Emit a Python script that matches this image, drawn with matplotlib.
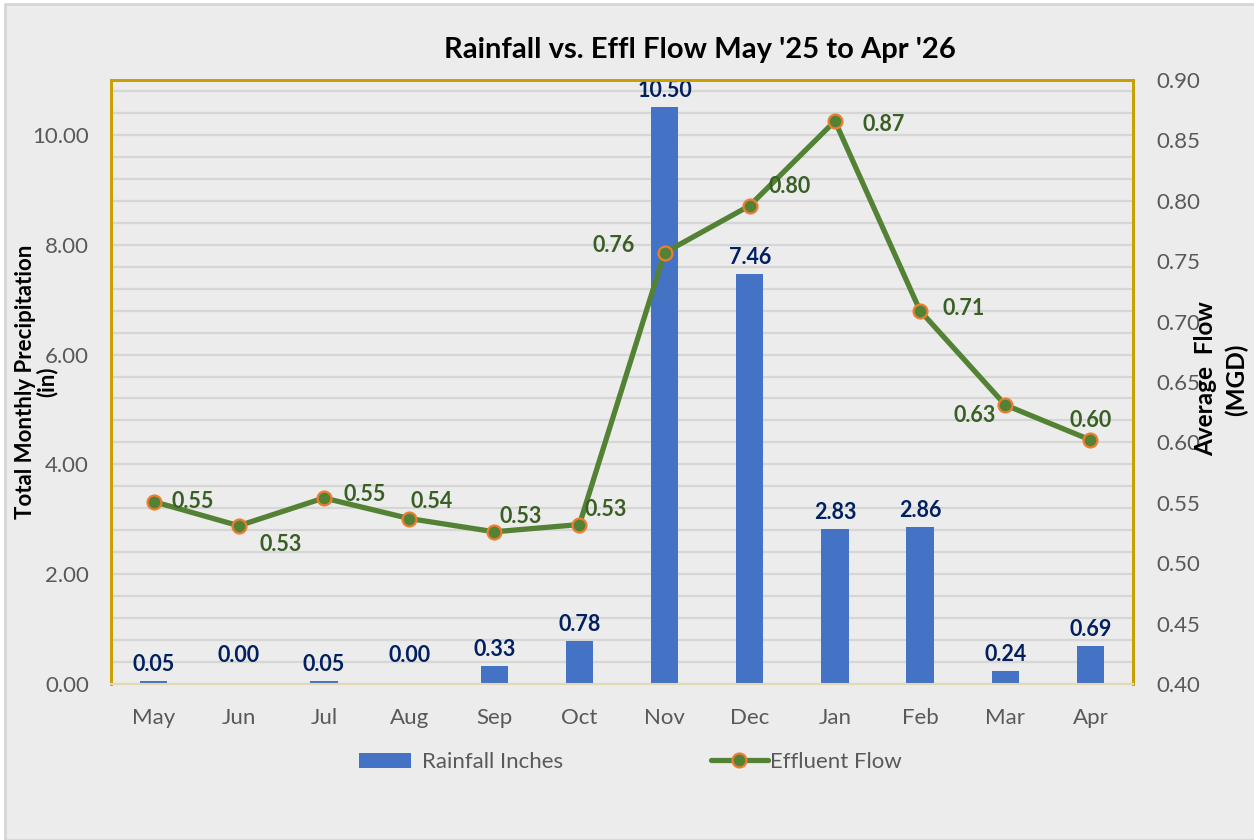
import matplotlib
matplotlib.use("Agg")
import matplotlib.pyplot as plt
from matplotlib.ticker import MultipleLocator, FormatStrFormatter
from matplotlib.patches import Rectangle, Patch
from matplotlib.lines import Line2D

plt.rcParams['font.family'] = ['Lato', 'DejaVu Sans']

months = ['May', 'Jun', 'Jul', 'Aug', 'Sep', 'Oct', 'Nov', 'Dec', 'Jan', 'Feb', 'Mar', 'Apr']
rainfall = [0.05, 0.00, 0.05, 0.00, 0.33, 0.78, 10.50, 7.46, 2.83, 2.86, 0.24, 0.69]
flow = [0.551, 0.531, 0.554, 0.537, 0.526, 0.532, 0.757, 0.796, 0.866, 0.709, 0.631, 0.602]

title = "Rainfall vs. Effl Flow May '25 to Apr '26"
left_label = ["Total Monthly Precipitation", "(in)"]
right_label = ["Average  Flow", "(MGD)"]
bar_name = "Rainfall Inches"
line_name = "Effluent Flow"

# label placement for flow labels (pixel offsets, horizontal alignment)
flow_lbl_layout = [(18, 0, 'left'), (21, -19, 'left'), (20, 3, 'left'), (1, 17, 'left'),
                   (5, 15, 'left'), (5, 15, 'left'), (-30, 7, 'right'), (19, 19, 'left'),
                   (28, -3, 'left'), (22, 2, 'left'), (-9, -11, 'right'), (0, 19, 'center')]

W, H = 1254, 840
BG = '#ECECEC'
fig = plt.figure(figsize=(W / 100, H / 100), dpi=100, facecolor='white')
fig.patches.append(Rectangle((5 / W, 0), 1.0, 1 - 4 / H, transform=fig.transFigure,
                             facecolor=BG, edgecolor='#D6D6D6', linewidth=2, zorder=-10))

ax = fig.add_axes([111 / W, 1 - 684 / H, (1133 - 111) / W, (684 - 80) / H])
ax.set_facecolor(BG)
x = list(range(len(months)))

bars = ax.bar(x, rainfall, width=0.32, color='#4472C4', zorder=3)
ax.set_xlim(-0.5, len(months) - 0.5)
ax.set_ylim(0, 11)
ax.yaxis.set_major_locator(MultipleLocator(2))
ax.yaxis.set_minor_locator(MultipleLocator(0.4))
ax.yaxis.set_major_formatter(FormatStrFormatter('%.2f'))
ax.grid(True, which='both', axis='y', color='#D6D6D6', linewidth=1.6, zorder=0)
ax.set_axisbelow(True)
ax.set_xticks(x)
ax.set_xticklabels(months)
ax.tick_params(axis='both', which='both', length=0, labelsize=16, labelcolor='#595959')
ax.tick_params(axis='y', pad=16)
ax.tick_params(axis='x', pad=17)

for v, xi in zip(rainfall, x):
    off = 18 if v == 0 else 6
    ax.annotate(f'{v:.2f}', (xi, v), xytext=(0, off), textcoords='offset pixels',
                ha='center', va='bottom', fontsize=15.5, fontweight='bold', color='#002060', zorder=5)

ax2 = ax.twinx()
ax2.set_ylim(0.40, 0.90)
ax2.yaxis.set_major_locator(MultipleLocator(0.05))
ax2.yaxis.set_major_formatter(FormatStrFormatter('%.2f'))
ax2.tick_params(axis='y', length=0, labelsize=16, labelcolor='#595959', pad=17)
ax2.plot(x, flow, color='#548235', linewidth=3.8, marker='o', markersize=10,
         markerfacecolor='#548235', markeredgecolor='#ED7D31', markeredgewidth=1.6,
         zorder=4, solid_capstyle='round')
for v, xi, (dx, dy, ha) in zip(flow, x, flow_lbl_layout):
    ax2.annotate(f'{v:.2f}', (xi, v), xytext=(dx, dy), textcoords='offset pixels',
                 ha=ha, va='center', fontsize=15.5, fontweight='bold', color='#3A5F24', zorder=6)

for a in (ax, ax2):
    for s in ('left', 'top', 'right'):
        a.spines[s].set_color('#C9A000')
        a.spines[s].set_linewidth(2)
    a.spines['bottom'].set_color('#E2D8B4')
    a.spines['bottom'].set_linewidth(1.5)

fig.text(700 / W, 1 - 50 / H, title, ha='center', va='center', fontsize=21, fontweight='bold', color='black')
fig.text(26 / W, 1 - 382 / H, left_label[0], ha='center', va='center', rotation=90,
         fontsize=16, fontweight='bold')
fig.text(47 / W, 1 - 382 / H, left_label[1], ha='center', va='center', rotation=90,
         fontsize=16, fontweight='bold')
fig.text(1206 / W, 1 - 379 / H, right_label[0], ha='center', va='center', rotation=90,
         fontsize=17.5, fontweight='bold')
fig.text(1236 / W, 1 - 380 / H, right_label[1], ha='center', va='center', rotation=90,
         fontsize=17.5, fontweight='bold')

h1 = Patch(facecolor='#4472C4', edgecolor='none')
h2 = Line2D([0], [0], color='#548235', linewidth=3.8, marker='o', markersize=10,
            markerfacecolor='#548235', markeredgecolor='#ED7D31', markeredgewidth=1.6,
            solid_capstyle='round')
fig.legend(handles=[h1], labels=[bar_name], loc='center left',
           bbox_to_anchor=(359 / W, 1 - 762 / H), frameon=False, fontsize=16,
           handlelength=2.35, handleheight=0.65, handletextpad=0.5, borderpad=0,
           borderaxespad=0, labelcolor='#595959')
fig.legend(handles=[h2], labels=[line_name], loc='center left',
           bbox_to_anchor=(711 / W, 1 - 762 / H), frameon=False, fontsize=16,
           handlelength=2.55, handletextpad=0.12, borderpad=0,
           borderaxespad=0, labelcolor='#595959')

fig.savefig('out.png', dpi=100, facecolor='white')
